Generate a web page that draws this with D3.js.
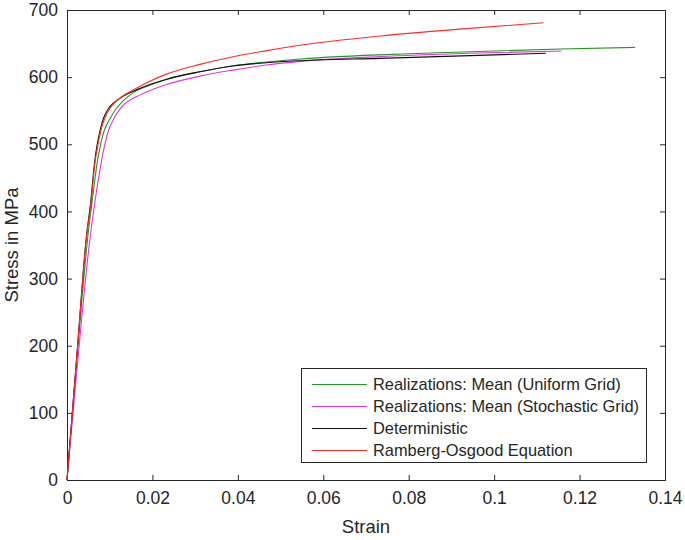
<!DOCTYPE html>
<head>
  <meta charset="utf-8">
  <script src="https://d3js.org/d3.v7.min.js"></script>
  <style>
  body { margin: 0; background: #fff; }
  text { font-family: "Liberation Sans", Arial, sans-serif; fill: #262626; }
  .axis path, .axis line { stroke: #262626; }
  .curve { fill: none; stroke-width: 1.1px; }
</style>
</head>
<body>
<svg width="685" height="540"></svg>

<script type="text/javascript">
// Values (strain, stress in MPa)
var greenStrain = [0, 0.0025, 0.0050, 0.0062, 0.0070, 0.0079, 0.0088, 0.0099, 0.0113, 0.0132, 0.0155, 0.0194, 0.0233, 0.0311, 0.0389, 0.0467, 0.0546, 0.0834, 0.1154, 0.1330];
var greenStress = [0, 195, 370, 430, 470, 501, 522, 536, 551, 565, 577, 588, 596.5, 608, 617, 622.5, 627, 635.5, 642, 644.4];

var magentaStrain = [0, 0.0027, 0.0052, 0.0066, 0.0078, 0.0089, 0.0098, 0.0108, 0.0120, 0.0136, 0.0155, 0.0194, 0.0233, 0.0311, 0.0389, 0.0467, 0.0546, 0.0733, 0.0943, 0.1158];
var magentaStress = [0, 190, 350, 417, 465, 501, 522, 536, 549, 561, 568.5, 580, 589, 601.5, 610.5, 618, 623.5, 630.5, 635.5, 639];

var blackStrain = [0, 0.0025, 0.0045, 0.0056, 0.0064, 0.0071, 0.0078, 0.0085, 0.0097, 0.0110, 0.0130, 0.0155, 0.0194, 0.0233, 0.0311, 0.0389, 0.0467, 0.0546, 0.0733, 0.0943, 0.1121];
var blackStress = [0, 202, 360, 417, 470, 501, 522, 538, 553, 562, 571, 579, 589, 597, 608, 616.5, 621.5, 624.5, 628, 632, 635.5];

var redStrain = [0, 0.0025, 0.0045, 0.0057, 0.0065, 0.0073, 0.0081, 0.0089, 0.0100, 0.0112, 0.0128, 0.0155, 0.0194, 0.0233, 0.0311, 0.0389, 0.0468, 0.0546, 0.0733, 0.0943, 0.1115];
var redStress = [0, 200, 358, 417, 470, 501, 525, 540, 553, 562, 571, 581, 594, 604.5, 619, 630.5, 639.5, 647.5, 661.3, 672.7, 681];

var seriesNames = ["Realizations: Mean (Uniform Grid)", "Realizations: Mean (Stochastic Grid)", "Deterministic", "Ramberg-Osgood Equation"];
var seriesColors = ["#1f9a1f", "#e632e6", "#111111", "#ff2a2a"];

var xTicks = [0, 0.02, 0.04, 0.06, 0.08, 0.1, 0.12, 0.14];
var yTicks = [0, 100, 200, 300, 400, 500, 600, 700];

var series = [
  [greenStrain, greenStress],
  [magentaStrain, magentaStress],
  [blackStrain, blackStress],
  [redStrain, redStress]
];

var svg = d3.select("svg");
var plotL = 67, plotR = 665, plotT = 10, plotB = 480;

var x = d3.scaleLinear().domain([0, 0.14]).range([plotL, plotR]);
var y = d3.scaleLinear().domain([0, 700]).range([plotB, plotT]);

// axes with inward ticks, box on
svg.append("g").attr("class", "axis")
  .attr("transform", "translate(0," + plotB + ")")
  .call(d3.axisBottom(x).tickValues(xTicks).tickSize(-5).tickPadding(12).tickFormat(d3.format("")))
  .call(function(g) { g.selectAll("text").style("font-size", "17.5px"); });

svg.append("g").attr("class", "axis")
  .attr("transform", "translate(" + plotL + ",0)")
  .call(d3.axisLeft(y).tickValues(yTicks).tickSize(-5).tickPadding(9))
  .call(function(g) { g.selectAll("text").style("font-size", "17.5px"); });

svg.append("g").attr("class", "axis")
  .attr("transform", "translate(0," + plotT + ")")
  .call(d3.axisTop(x).tickValues(xTicks).tickSize(-5).tickFormat(""));

svg.append("g").attr("class", "axis")
  .attr("transform", "translate(" + plotR + ",0)")
  .call(d3.axisRight(y).tickValues(yTicks).tickSize(-5).tickFormat(""));

svg.selectAll(".axis path").attr("stroke-width", 1);

// curves
var line = d3.line()
  .x(function(d) { return x(d[0]); })
  .y(function(d) { return y(d[1]); })
  .curve(d3.curveMonotoneX);

series.forEach(function(s, i) {
  var pts = s[0].map(function(v, j) { return [v, s[1][j]]; });
  svg.append("path")
    .datum(pts)
    .attr("class", "curve")
    .attr("stroke", seriesColors[i])
    .attr("d", line);
});

// axis labels
svg.append("text")
  .attr("x", (plotL + plotR) / 2)
  .attr("y", 533)
  .attr("text-anchor", "middle")
  .style("font-size", "18.5px")
  .text("Strain");

svg.append("text")
  .attr("transform", "translate(18," + (plotT + plotB) / 2 + ") rotate(-90)")
  .attr("text-anchor", "middle")
  .style("font-size", "18.5px")
  .text("Stress in MPa");

// legend
var legend = svg.append("g");
legend.append("rect")
  .attr("x", 301.5).attr("y", 368.5)
  .attr("width", 345).attr("height", 94)
  .attr("fill", "#fff")
  .attr("stroke", "#262626")
  .attr("stroke-width", 1);

seriesNames.forEach(function(name, i) {
  var cy = 384 + i * 22;
  legend.append("line")
    .attr("x1", 312).attr("x2", 367)
    .attr("y1", cy + 0.5).attr("y2", cy + 0.5)
    .attr("stroke", seriesColors[i]);
  legend.append("text")
    .attr("x", 373).attr("y", cy)
    .attr("dy", "0.35em")
    .style("font-size", "16.4px")
    .text(name);
});
</script>

</body>
</html>
